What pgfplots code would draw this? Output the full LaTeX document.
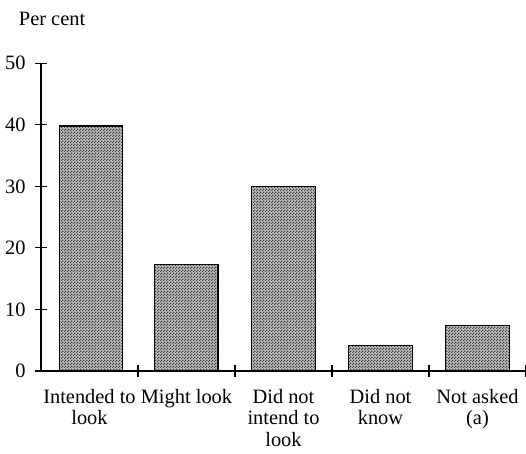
\documentclass[border=0pt]{standalone}
\usepackage{pgfplots}
\pgfplotsset{compat=1.18}
\usetikzlibrary{patterns}
\usepackage{fontspec}
\setmainfont{Liberation Serif}
\pgfdeclarepatternformonly{checker}{\pgfpointorigin}{\pgfqpoint{1.8pt}{1.8pt}}{\pgfqpoint{1.8pt}{1.8pt}}{%
  \pgfpathrectangle{\pgfqpoint{0pt}{0pt}}{\pgfqpoint{0.9pt}{0.9pt}}%
  \pgfpathrectangle{\pgfqpoint{0.9pt}{0.9pt}}{\pgfqpoint{0.9pt}{0.9pt}}%
  \pgfusepath{fill}}
\begin{document}
\begin{tikzpicture}
\begin{axis}[
  scale only axis,
  width=285.3pt, height=181pt,
  at={(0,0)}, anchor=south west,
  xmin=0.5, xmax=5.5, ymin=0, ymax=50,
  axis x line=bottom, axis y line=left,
  axis line style={-, line width=0.8pt},
  ytick={0,10,20,30,40,50},
  xtick={1.5,2.5,3.5,4.5,5.5},
  xticklabels={},
  extra x ticks={1,2,3,4,5},
  extra x tick labels={Intended to\\look, Might look, Did not\\intend to\\look, Did not\\know, Not asked\\(a)},
  extra x tick style={major tick length=0pt, xticklabel style={align=center, anchor=north, yshift=-7pt, font=\fontsize{12}{12.8}\selectfont}},
  tick align=center,
  major tick length=7pt,
  tick style={black, line width=0.7pt},
  yticklabel style={font=\fontsize{12}{13}\selectfont, xshift=-2pt},
  /pgf/number format/assume math mode=true,
  bar width=0.65,
  clip=false,
]
\addplot[ybar, fill=black!25, postaction={pattern=checker, pattern color=black!75}, draw=black, line width=0.6pt] coordinates {
  (1.02,39.8) (2,17.3) (3,30.0) (4,4.2) (5,7.4)
};
\node[anchor=base west, font=\fontsize{12}{13}\selectfont] at ([xshift=-16.5pt, yshift=22pt]rel axis cs:0,1) {Per cent};
\end{axis}
\pgfresetboundingbox
\path (-24.1pt,-48.5pt) rectangle (285.3pt,218.2pt);
\end{tikzpicture}
\end{document}
